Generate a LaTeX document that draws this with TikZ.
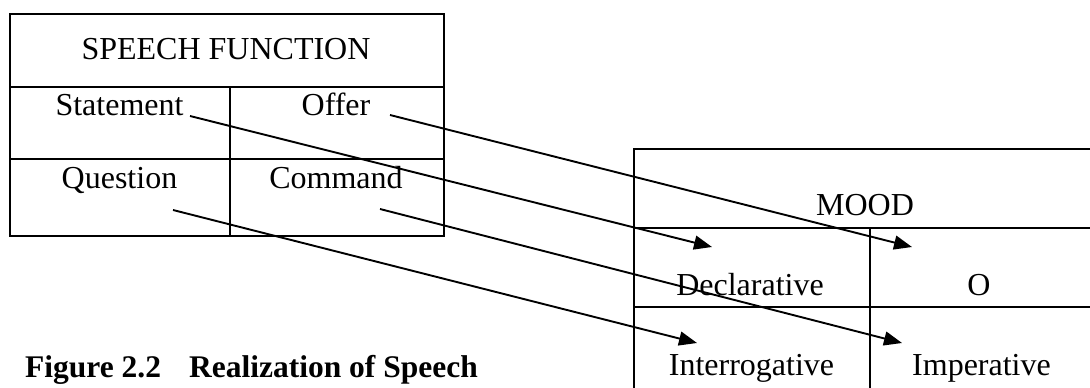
\documentclass[tikz,border=0pt]{standalone}
\usepackage{fontspec}
\setmainfont{Liberation Serif}
\usetikzlibrary{arrows.meta}
\begin{document}
\begin{tikzpicture}[x=1pt,y=-1pt,
  grid/.style={line width=2.3pt},
  lbl/.style={anchor=base,inner sep=0pt,font=\fontsize{32}{38}\selectfont},
  conn/.style={line width=1.9pt,-{Triangle[length=18pt,width=14pt]}}]
\useasboundingbox (0,0) rectangle (1090,388);
\clip (0,0) rectangle (1090,388);
% left table
\draw[grid] (10,14) rectangle (444,236);
\draw[grid] (10,87) -- (444,87);
\draw[grid] (10,159) -- (444,159);
\draw[grid] (230,87) -- (230,236);
% right table
\draw[grid] (1100,149) -- (634,149) -- (634,400);
\draw[grid] (634,228) -- (1100,228);
\draw[grid] (634,307) -- (1100,307);
\draw[grid] (870,228) -- (870,400);
% texts
\node[lbl] (sf) at (226,59) {SPEECH FUNCTION};
\node[lbl] (st) at (119.5,115) {Statement};
\node[lbl] (of) at (336,115) {Offer};
\node[lbl] (qu) at (119.5,188) {Question};
\node[lbl] (cm) at (336,188) {Command};
\node[lbl] (mood) at (865,215) {MOOD};
\node[lbl] (dec) at (750,295) {Declarative};
\node[lbl] (o) at (979,295) {O};
\node[lbl] (int) at (751.5,375) {Interrogative};
\node[lbl] (imp) at (981.5,375) {Imperative};
\node[lbl,anchor=base west,font=\fontsize{31.5}{36}\selectfont\bfseries] (cap) at (25,377) {Figure 2.2\hspace{28pt}Realization of Speech};
% connector ends
\coordinate (s1) at (190,116); \coordinate (e1) at (712,247);
\coordinate (s2) at (390,115); \coordinate (e2) at (912,247);
\coordinate (s3) at (173,210); \coordinate (e3) at (697,343);
\coordinate (s4) at (380,209); \coordinate (e4) at (902,343);
\draw[conn] (s1) -- (e1);
\draw[conn] (s2) -- (e2);
\draw[conn] (s3) -- (e3);
\draw[conn] (s4) -- (e4);
\end{tikzpicture}
\end{document}
